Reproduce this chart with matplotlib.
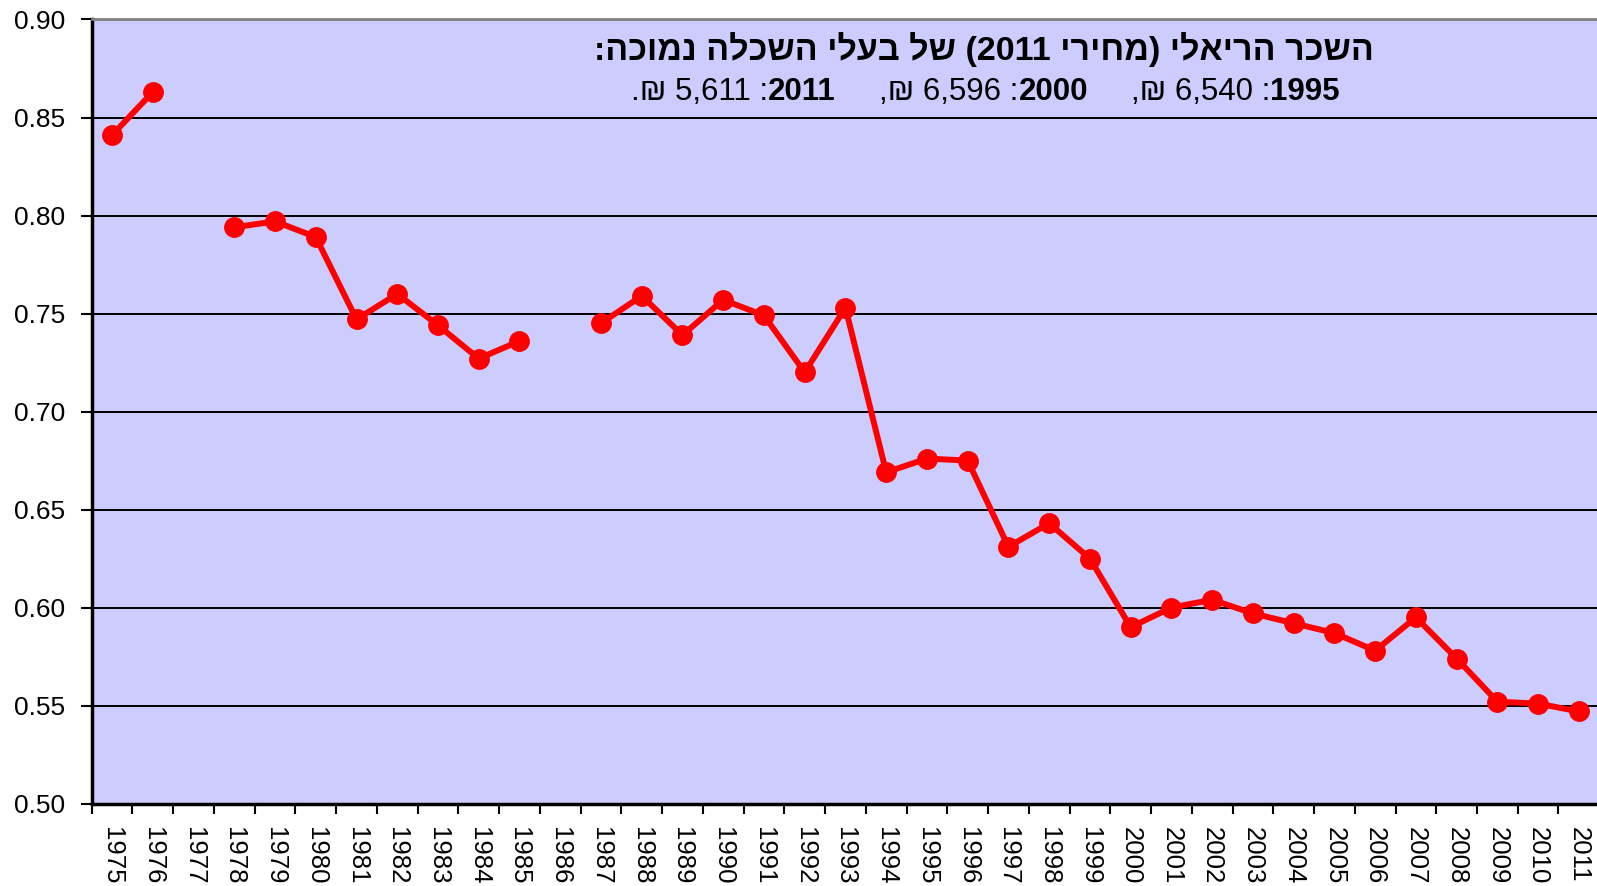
import re
import numpy as np
import matplotlib
matplotlib.use('Agg')
import matplotlib.pyplot as plt
from matplotlib.ticker import FixedLocator

plt.rcParams['font.family'] = ['Liberation Sans', 'DejaVu Sans']

# data (1977 and 1986 missing)
years = list(range(1975, 2012))
ratio = [0.841, 0.863, np.nan, 0.794, 0.797, 0.789, 0.747, 0.760, 0.744, 0.727,
         0.736, np.nan, 0.745, 0.759, 0.739, 0.757, 0.749, 0.720, 0.753, 0.669,
         0.676, 0.675, 0.631, 0.643, 0.625, 0.590, 0.600, 0.604, 0.597, 0.592,
         0.587, 0.578, 0.595, 0.574, 0.552, 0.551, 0.547]
y_ticks = [0.50, 0.55, 0.60, 0.65, 0.70, 0.75, 0.80, 0.85, 0.90]

title = 'השכר הריאלי (מחירי 2011) של בעלי השכלה נמוכה:'
wage_years = ['1995', '2000', '2011']
wage_values = ['6,540', '6,596', '5,611']


def visual(s):
    # matplotlib has no bidi, so lay out RTL text by hand
    mirror = {'(': ')', ')': '('}
    r = ''.join(mirror.get(c, c) for c in reversed(s))
    return re.sub(r'[0-9][0-9,.]*[0-9]|[0-9]', lambda m: m.group(0)[::-1], r)


fig = plt.figure(figsize=(15.97, 8.86), dpi=100)
ax = fig.add_axes([0.0574, 0.093, 0.944, 0.885])
ax.set_facecolor('#CCCCFF')

x = np.arange(len(years))
ax.plot(x, ratio, color='#FF0000', lw=4.3, marker='o', ms=14, zorder=3)

ax.set_xlim(-0.5, len(years) - 0.5)
ax.set_ylim(0.50, 0.90)
ax.set_yticks(y_ticks)
ax.set_yticklabels([f'{v:.2f}' for v in y_ticks])
for v in y_ticks[1:-1]:
    ax.axhline(v, color='black', lw=1.4, zorder=1)

ax.set_xticks(x)
ax.set_xticklabels([str(y) for y in years], rotation=270)
ax.xaxis.set_minor_locator(FixedLocator(np.arange(-0.5, len(years), 1)))
ax.tick_params(axis='x', which='major', length=0, pad=17, labelsize=18.5)
ax.tick_params(axis='x', which='minor', length=7, width=1.5, direction='out')
ax.tick_params(axis='y', length=8, width=1.5, direction='out', pad=11, labelsize=19)

for s in ['left', 'bottom']:
    ax.spines[s].set_linewidth(2.5)
ax.spines['right'].set_visible(False)
ax.spines['top'].set_color('#808080')
ax.spines['top'].set_linewidth(2)

fig.text(984 / 1597, 1 - 50 / 886, visual(title), ha='center', va='center',
         fontsize=24.5, fontweight='bold')

# second line: pieces in visual (left-to-right) order, years bold
pieces = []
for i in range(len(wage_years) - 1, -1, -1):
    end = '.' if i == len(wage_years) - 1 else ','
    pieces.append((end + '₪ ' + wage_values[i] + ' :', 'normal'))
    pieces.append((wage_years[i], 'bold'))
    if i > 0:
        pieces.append(('     ', 'normal'))

anchor = fig.text(631 / 1597, 1 - 92 / 886, pieces[0][0], ha='left', va='center',
                  fontsize=22.5, fontweight=pieces[0][1])
for s, w in pieces[1:]:
    anchor = ax.annotate(s, xy=(1, 0.5), xycoords=anchor, ha='left', va='center',
                         fontsize=22.5, fontweight=w, annotation_clip=False)

fig.savefig('out.png', dpi=100)
